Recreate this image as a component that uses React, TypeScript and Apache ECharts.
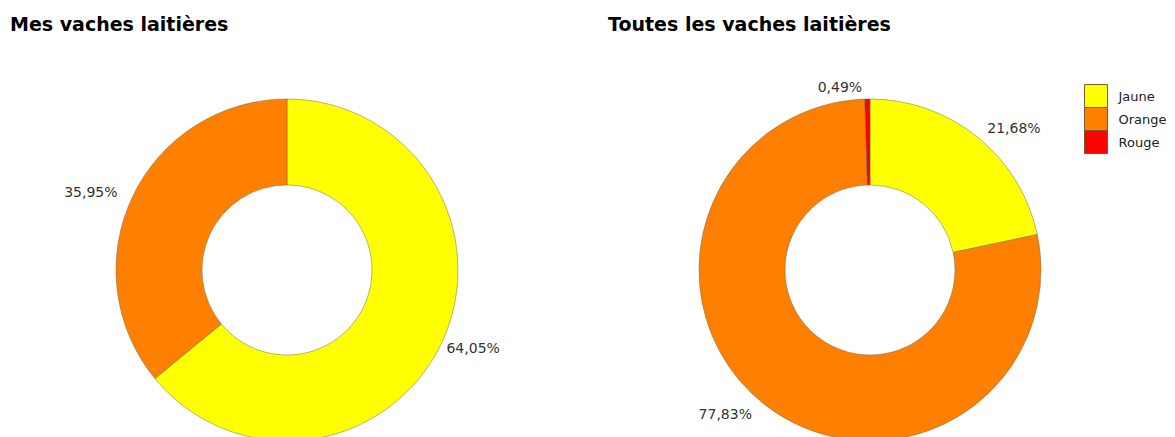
import React, { useEffect, useRef } from "react";
import * as echarts from "echarts";

const categories = ["Jaune", "Orange", "Rouge"];
const colors = ["#FFFF00", "#FF8000", "#FF0000"];
const mesValues = [64.05, 35.95, 0];
const toutesValues = [21.68, 77.83, 0.49];
const titles = ["Mes vaches laitières", "Toutes les vaches laitières"];

const fmt = (v: number) => v.toFixed(2).replace(".", ",") + "%";

function buildData(values: number[], tweak: number[]) {
  return categories
    .map((name, i) => ({
      name,
      value: values[i],
      itemStyle: { color: colors[i] },
      labelLine: { length2: tweak[i] },
    }))
    .filter((d) => d.value > 0);
}

export default function App() {
  const ref = useRef<HTMLDivElement>(null);
  useEffect(() => {
    if (!ref.current) return;
    const chart = echarts.init(ref.current, undefined, { renderer: "svg" });
    const font = "'DejaVu Sans', sans-serif";
    const pieBase = {
      type: "pie",
      radius: [85, 171],
      startAngle: 90,
      clockwise: true,
      avoidLabelOverlap: false,
      itemStyle: { borderColor: "rgba(110,110,90,0.5)", borderWidth: 1 },
      label: {
        show: true,
        position: "outside",
        formatter: (p: any) => fmt(p.value),
        fontFamily: font,
        fontSize: 14,
        color: "#333",
        distanceToLabelLine: 0,
      },
      labelLine: { show: false, length: 12, length2: 0 },
      emphasis: { disabled: true },
    };
    chart.setOption({
      animation: false,
      title: [
        {
          text: titles[0],
          left: 5,
          top: 9,
          textStyle: { fontFamily: font, fontWeight: "bold", fontSize: 19, color: "#000" },
        },
        {
          text: titles[1],
          left: 603,
          top: 9,
          textStyle: { fontFamily: font, fontWeight: "bold", fontSize: 19, color: "#000" },
        },
      ],
      legend: {
        data: categories,
        orient: "vertical",
        left: 1084,
        top: 84,
        padding: 0,
        itemWidth: 23,
        itemHeight: 23,
        itemGap: -1,
        icon: "rect",
        itemStyle: { borderColor: "#7a5a30", borderWidth: 1 },
        textStyle: { fontFamily: font, fontSize: 13, color: "#222", padding: [0, 0, 0, 6] },
        selectedMode: false,
      },
      series: [
        { ...pieBase, name: titles[0], center: [287, 270], data: buildData(mesValues, [-6, 4, 0]) },
        { ...pieBase, name: titles[1], center: [870, 270], data: buildData(toutesValues, [2, 5, 5]) },
      ],
    });
    return () => chart.dispose();
  }, []);
  return (
    <div
      ref={ref}
      style={{ position: "absolute", left: 0, top: 0, width: 1175, height: 437, background: "#fff" }}
    />
  );
}
